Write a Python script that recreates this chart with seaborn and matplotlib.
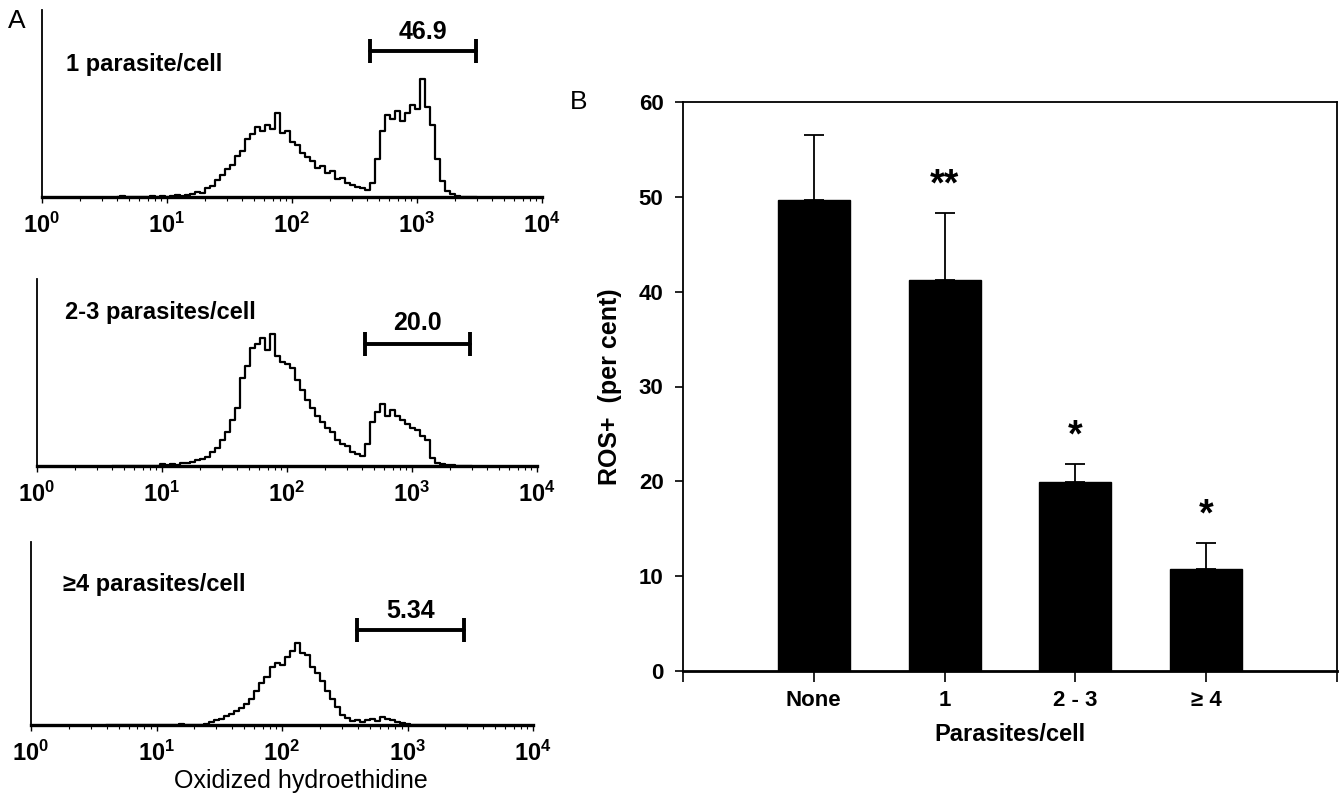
import matplotlib
matplotlib.use("Agg")
import matplotlib.pyplot as plt
import matplotlib.ticker as mticker
import numpy as np
import seaborn as sns

# --- panel A: flow histograms (log10 channel, height) ---
log_channel = np.round(np.arange(0.60, 3.50, 0.04), 2)

hist_1 = [0, 1, 0, 0, 0, 0, 0, 1, 0, 1, 0, 1, 2, 1, 2, 3, 5, 4, 9, 11,
          17, 22, 28, 32, 41, 46, 58, 63, 70, 66, 72, 68, 84, 64, 66, 55, 52, 44, 40, 36,
          29, 31, 24, 26, 18, 19, 14, 12, 10, 9, 7, 14, 38, 66, 82, 78, 86, 76, 84, 92,
          88, 118, 90, 72, 38, 16, 6, 3, 1, 0, 0, 0, 0]
hist_2 = [0, 0, 0, 0, 0, 0, 0, 0, 0, 0, 2, 1, 2, 1, 3, 3, 4, 6, 7, 9,
          14, 18, 26, 34, 46, 58, 88, 100, 118, 122, 128, 116, 132, 110, 104, 102, 98, 86, 76, 66,
          58, 50, 44, 38, 34, 26, 22, 20, 14, 12, 10, 22, 44, 54, 62, 50, 56, 50, 46, 42,
          38, 36, 30, 26, 8, 3, 2, 1, 1, 0, 0, 0, 0]
hist_3 = [0, 0, 0, 0, 0, 0, 0, 0, 0, 0, 0, 0, 0, 0, 0, 1, 0, 0, 0, 0,
          1, 3, 5, 6, 9, 11, 14, 17, 21, 26, 34, 42, 48, 58, 62, 60, 68, 74, 82, 72,
          70, 58, 52, 44, 34, 26, 18, 10, 7, 4, 5, 3, 5, 6, 4, 8, 6, 5, 3, 2,
          1, 0, 0, 0, 0, 0, 0, 0, 0, 0, 0, 0, 0]
hist_titles = ["1 parasite/cell", "2-3 parasites/cell", "\u22654 parasites/cell"]
gate_pct = ["46.9", "20.0", "5.34"]
gate_lo = [2.62, 2.62, 2.60]
gate_hi = [3.47, 3.46, 3.45]

# --- panel B: ROS+ bars ---
groups = ["None", "1", "2 - 3", "\u2265 4"]
ros_pct = [49.7, 41.2, 19.9, 10.8]
ros_err = [6.8, 7.1, 1.9, 2.7]
sig = ["", "**", "*", "*"]

sns.set_style("ticks")
plt.rcParams['font.family'] = ['Liberation Sans', 'DejaVu Sans']
plt.rcParams['mathtext.fontset'] = 'custom'
plt.rcParams['mathtext.bf'] = 'Liberation Sans:bold'
plt.rcParams['mathtext.rm'] = 'Liberation Sans'
for key in ['text.color', 'axes.labelcolor', 'xtick.color', 'ytick.color', 'axes.edgecolor']:
    plt.rcParams[key] = 'black'

fig = plt.figure(figsize=(13.44, 7.96), dpi=100)

W, H = 1344.0, 796.0
def box(x0, y0, x1, y1):
    return [x0 / W, 1 - y1 / H, (x1 - x0) / W, (y1 - y0) / H]

hist_boxes = [box(42, 10, 542, 197), box(37, 279, 537, 466), box(31, 542, 533, 725)]
hist_tops = [187, 187, 183]
gate_y = [146, 122, 95]
label_y = [165, 143, 114]
title_y = [132, 154, 140]

for i, hist in enumerate([hist_1, hist_2, hist_3]):
    ax = fig.add_axes(hist_boxes[i])
    sns.lineplot(x=10 ** log_channel, y=hist, ax=ax, color="black", lw=1.6,
                 drawstyle="steps-mid", errorbar=None)
    ax.set_xscale("log")
    ax.set_xlim(1, 1e4)
    ax.set_ylim(0, hist_tops[i])
    sns.despine(ax=ax)
    ax.spines["left"].set_linewidth(1.3)
    ax.spines["bottom"].set_linewidth(2.4)
    ax.set_yticks([])
    ax.set_xticks([1, 10, 100, 1000, 10000])
    ax.set_xticklabels([r"$\mathbf{10^{%d}}$" % k for k in range(5)], fontsize=17)
    ax.xaxis.set_minor_locator(mticker.LogLocator(base=10, subs=np.arange(2, 10)))
    ax.xaxis.set_minor_formatter(mticker.NullFormatter())
    ax.tick_params(axis="x", which="major", length=4, width=1, pad=7)
    ax.tick_params(axis="x", which="minor", length=3, width=0.8)
    ax.set_xlabel("")
    ax.set_ylabel("")
    # gate marker
    lo, hi = 10 ** gate_lo[i], 10 ** gate_hi[i]
    ax.plot([lo, hi], [gate_y[i], gate_y[i]], color="black", lw=2.8, clip_on=False)
    ax.vlines([lo, hi], gate_y[i] - 12, gate_y[i] + 12, color="black", lw=2.8, clip_on=False)
    ax.text(np.sqrt(lo * hi), label_y[i], gate_pct[i], ha="center", va="center",
            fontsize=18, fontweight="bold", clip_on=False)
    ax.text(0.048 + 0.008 * i, title_y[i] / hist_tops[i], hist_titles[i], transform=ax.transAxes,
            ha="left", va="center", fontsize=17, fontweight="bold")

fig.text(17 / W, 1 - 21 / H, "A", fontsize=19, ha="center", va="center")
fig.text(301 / W, 1 - 781 / H, "Oxidized hydroethidine", fontsize=18, ha="center", va="center")

# --- panel B ---
axb = fig.add_axes(box(683, 102, 1337, 671))
sns.barplot(x=groups, y=ros_pct, color="black", width=0.55, ax=axb,
            errorbar=None, saturation=1, edgecolor="black")
axb.errorbar(x=np.arange(len(groups)), y=ros_pct, yerr=[[0] * len(groups), ros_err],
             fmt="none", ecolor="black", elinewidth=1.3, capsize=7, capthick=1.3)
for k, s in enumerate(sig):
    if s:
        axb.text(k, ros_pct[k] + ros_err[k] + 1.0, s, ha="center", va="bottom",
                 fontsize=27, fontweight="bold")
axb.set_xlim(-1, 4)
axb.set_ylim(0, 60)
axb.set_xticks(np.arange(-1, 5))
axb.set_xticklabels([""] + groups + [""])
axb.set_yticks(np.arange(0, 61, 10))
narrow = ['Liberation Sans Narrow', 'Liberation Sans', 'DejaVu Sans']
for lab in axb.get_xticklabels() + axb.get_yticklabels():
    lab.set_family(narrow)
    lab.set_fontsize(16)
    lab.set_fontweight("bold")
axb.tick_params(axis="x", length=8, width=1.2, pad=6)
axb.tick_params(axis="y", length=6, width=1.2, pad=8)
for sp in axb.spines.values():
    sp.set_linewidth(1.3)
axb.spines["bottom"].set_linewidth(2)
axb.set_xlabel("Parasites/cell", fontsize=17, fontweight="bold", family=narrow, labelpad=8)
axb.set_ylabel("ROS+  (per cent)", fontsize=18, fontweight="bold", labelpad=12)
fig.text(570 / W, 1 - 102 / H, "B", fontsize=19, ha="left", va="center")

fig.savefig("out.png", dpi=100)
